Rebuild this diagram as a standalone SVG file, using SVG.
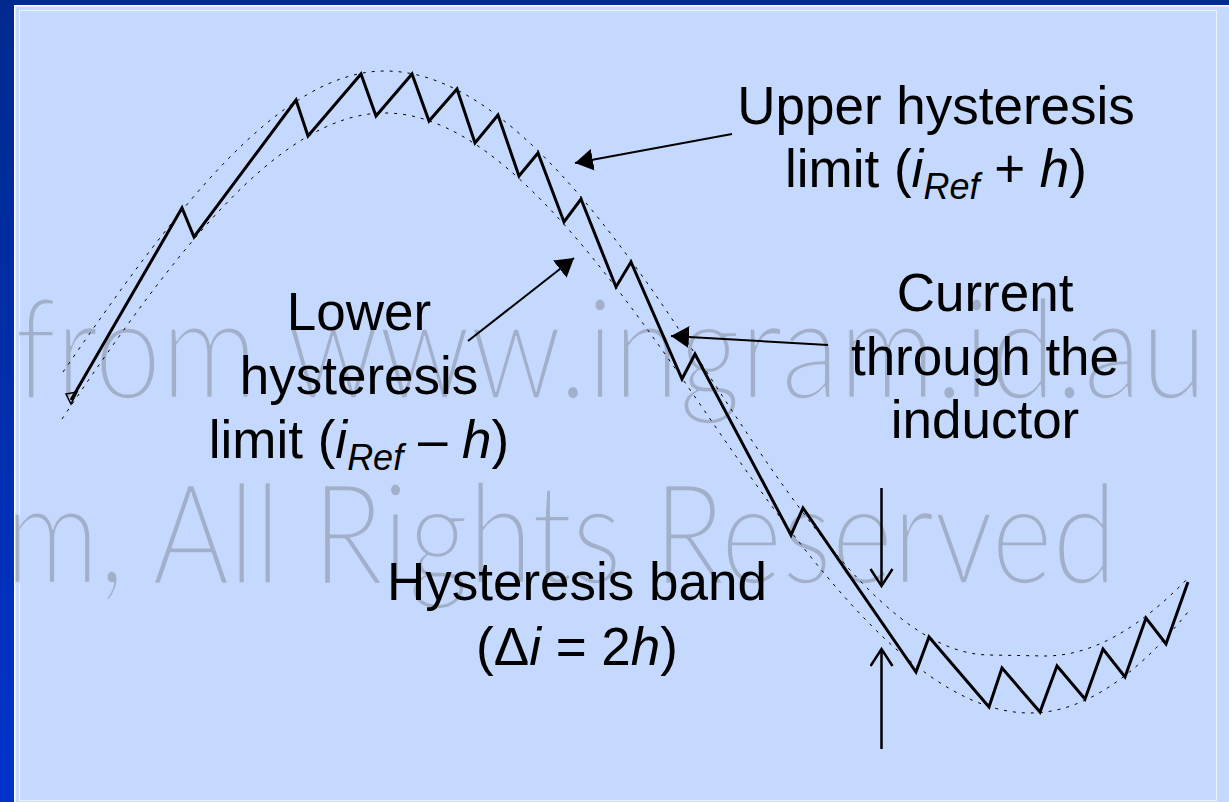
<svg xmlns="http://www.w3.org/2000/svg" width="1229" height="802" viewBox="0 0 1229 802">
  <style>
    .lbl { font-family: "Liberation Sans", Arial, sans-serif; font-size: 53px; fill: #000; text-anchor: middle; }
    .it { font-style: italic; }
    .sub { font-style: italic; font-size: 36px; }
    .wm { font-family: Lato, "Open Sans", "Noto Sans", sans-serif; font-weight: 300; font-size: 138px; fill: #505050; fill-opacity: 0.3; }
    .thin { stroke: #C5D8FE; stroke-width: 1.6; stroke-linejoin: round; }
    .env { fill: none; stroke: #000; stroke-width: 1; stroke-dasharray: 3 6; }
    .cur { fill: none; stroke: #000; stroke-width: 3; stroke-linejoin: miter; }
    .arr { fill: none; stroke: #000; stroke-width: 2; }
    .varr { fill: none; stroke: #000; stroke-width: 2.5; }
  </style>
  <defs>
    <linearGradient id="frameGrad" x1="0" y1="0" x2="0" y2="1">
      <stop offset="0" stop-color="#002A8E"/>
      <stop offset="1" stop-color="#0033CC"/>
    </linearGradient>
    <clipPath id="inner"><rect x="15.5" y="0" width="1214" height="802"/></clipPath>
    <clipPath id="frame"><rect x="0" y="0" width="14" height="802"/></clipPath>
    <marker id="headFilled" markerUnits="userSpaceOnUse" markerWidth="20" markerHeight="24" refX="18" refY="11" orient="auto">
      <path d="M0,0 L18,11 L0,22 Z" fill="#000"/>
    </marker>
    <marker id="headOpen" markerUnits="userSpaceOnUse" markerWidth="22" markerHeight="26" refX="18" refY="12" orient="auto">
      <path d="M1,1 L18,12 L1,23" fill="none" stroke="#000" stroke-width="2.5"/>
    </marker>
  </defs>

  <g id="background">
    <rect x="0" y="0" width="1229" height="802" fill="#C5D8FE"/>
    <rect x="0" y="0" width="1229" height="5" fill="#002A8E"/>
    <rect x="0" y="0" width="14" height="802" fill="url(#frameGrad)"/>
    <line x1="14" y1="5.75" x2="1229" y2="5.75" stroke="#FFFFFF" stroke-width="1.5"/>
    <line x1="14.75" y1="5" x2="14.75" y2="802" stroke="#FFFFFF" stroke-width="1.5"/>
    <rect x="19.5" y="10.5" width="1197" height="790" fill="none" stroke="#EAF1FF" stroke-width="1.2"/>
  </g>

  <g id="watermark">
    <g clip-path="url(#inner)">
      <text class="wm thin" x="15" y="398" textLength="1192" lengthAdjust="spacingAndGlyphs">from www.ingram.id.au</text>
      <text class="wm thin" x="-52" y="583" textLength="1169" lengthAdjust="spacingAndGlyphs">am, All Rights Reserved</text>
    </g>
    <g clip-path="url(#frame)">
      <text class="wm" x="-52" y="583" textLength="1169" lengthAdjust="spacingAndGlyphs">am, All Rights Reserved</text>
    </g>
  </g>

  <g id="envelopes">
    <path id="upper-limit" class="env" d="M63,372 C170.3,216.4 277.7,71 385,71 C490.3,71 595.7,199.7 701,363 C797.3,512.3 893.7,655 990,655 L1045,656 C1093.3,656 1141.7,626.7 1190,576"/>
    <path id="lower-limit" class="env" d="M62,419 C169.7,259.7 277.3,113 385,113 C492,113 599,256.8 706,413 C814,570.7 922,713 1030,713 C1082.7,713 1135.3,677.2 1188,612"/>
  </g>

  <g id="inductor-current">
    <polyline class="cur" points="71,400 182,208 194,237 296,100 308,136 361,74 376,116 412,74 429,121 457,89 475,143 498,115 519,176 538,153 564,222 581,199 616,287 631,262 682,379 695,354 791,535 803,508 916,672 929,637 989,707 1002,668 1040,712 1057,666 1085,699 1103,649 1125,677 1146,618 1166,644 1188,582"/>
    <polygon points="66,394 77,392 71,404" fill="none" stroke="#000" stroke-width="1.5"/>
  </g>

  <g id="label-upper">
    <text class="lbl" x="936" y="124">Upper hysteresis</text>
    <text class="lbl" x="936" y="187">limit (<tspan class="it">i</tspan><tspan class="sub" dy="12">Ref</tspan><tspan dy="-12"> + </tspan><tspan class="it">h</tspan>)</text>
  </g>

  <g id="label-lower">
    <text class="lbl" x="359" y="330">Lower</text>
    <text class="lbl" x="359" y="394">hysteresis</text>
    <text class="lbl" x="359" y="458">limit (<tspan class="it">i</tspan><tspan class="sub" dy="12">Ref</tspan><tspan dy="-12"> – </tspan><tspan class="it">h</tspan>)</text>
  </g>

  <g id="label-current">
    <text class="lbl" x="985" y="311">Current</text>
    <text class="lbl" x="985" y="375">through the</text>
    <text class="lbl" x="985" y="438">inductor</text>
  </g>

  <g id="label-band">
    <text class="lbl" x="577" y="600">Hysteresis band</text>
    <text class="lbl" x="577" y="665">(Δ<tspan class="it">i</tspan> = 2<tspan class="it">h</tspan>)</text>
  </g>

  <g id="connectors">
    <line class="arr" x1="732" y1="134" x2="575" y2="163" marker-end="url(#headFilled)"/>
    <line class="arr" x1="468" y1="341" x2="574" y2="258" marker-end="url(#headFilled)"/>
    <line class="arr" x1="828" y1="345" x2="671" y2="336" marker-end="url(#headFilled)"/>
    <line class="varr" x1="881.5" y1="488" x2="881.5" y2="586" marker-end="url(#headOpen)"/>
    <line class="varr" x1="881.5" y1="749" x2="881.5" y2="649" marker-end="url(#headOpen)"/>
  </g>
</svg>
